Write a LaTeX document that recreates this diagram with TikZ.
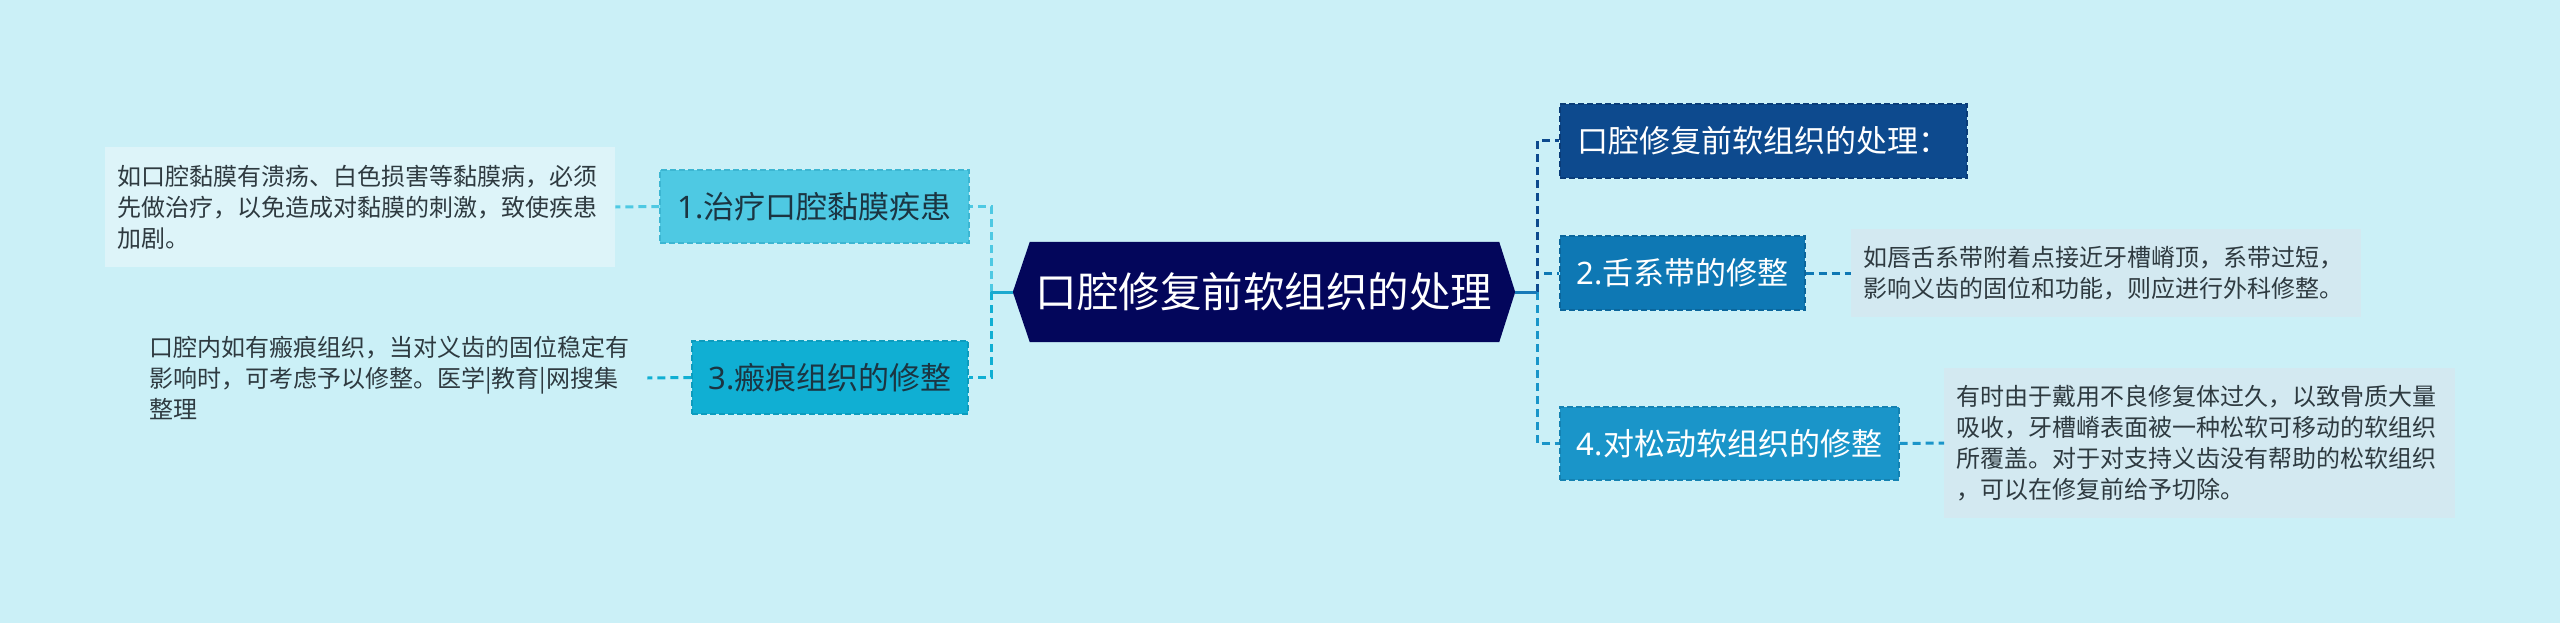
\documentclass[tikz,border=0pt]{standalone}
\usepackage{fontspec}
\setmainfont{Noto Sans CJK SC}
\newfontfamily\latinf{Noto Sans}
\usetikzlibrary{backgrounds}
\definecolor{pagebg}{HTML}{CBF0F7}
\definecolor{rootc}{HTML}{03065B}
\definecolor{topc}{HTML}{0D4A8E}
\definecolor{topd}{HTML}{0A3C78}
\definecolor{twoc}{HTML}{0E78B4}
\definecolor{twod}{HTML}{0B669C}
\definecolor{fourc}{HTML}{1A95C9}
\definecolor{fourd}{HTML}{1482B2}
\definecolor{onec}{HTML}{4EC9E3}
\definecolor{oned}{HTML}{3CB6D2}
\definecolor{threec}{HTML}{10AFD3}
\definecolor{threed}{HTML}{0C9CBE}
\definecolor{noteA}{HTML}{DDF4F9}
\definecolor{noteB}{HTML}{D3E9F1}
\definecolor{notetext}{HTML}{2E3A40}
\definecolor{darktext}{HTML}{1B3542}
\definecolor{stubL}{HTML}{1BA9CF}
\definecolor{stubR}{HTML}{1679B8}
\tikzset{
  box/.style={rectangle, inner sep=0pt, align=center,
    font=\fontsize{31}{38}\selectfont, dash pattern=on 6pt off 3pt, line width=1.2pt},
  note/.style={rectangle, anchor=west, align=left, inner xsep=12pt, inner ysep=0pt,
    font=\fontsize{24}{31}\selectfont, text=notetext},
  link/.style={line width=3pt, dash pattern=on 8pt off 5pt},
  stub/.style={line width=3pt},
}
\begin{document}
\begin{tikzpicture}[x=1pt,y=-1pt]
\begin{scope}[on background layer]
  \fill[pagebg] (0,0) rectangle (2560,623);
\end{scope}
\useasboundingbox (0,0) rectangle (2560,623);

% root
\node[rectangle, inner sep=0pt, minimum width=502pt, minimum height=100pt,
      text=white, font=\fontsize{41.5}{50}\selectfont] (root) at (1264,292) {口腔修复前软组织的处理};
\begin{scope}[on background layer]
  \fill[rootc] ([xshift=17pt]root.north west) -- ([xshift=-16pt]root.north east) -- (root.east)
    -- ([xshift=-16pt]root.south east) -- ([xshift=17pt]root.south west) -- (root.west) -- cycle;
\end{scope}

% left branches
\node[box, fill=onec, draw=oned, text=darktext, minimum width=309pt, minimum height=73pt] (n1) at (814.5,206.5) {{\latinf 1.}治疗口腔黏膜疾患};
\node[box, fill=threec, draw=threed, text=darktext, minimum width=276pt, minimum height=73pt] (n3) at (830,377.5) {{\latinf 3.}瘢痕组织的修整};

% right branches
\node[box, fill=topc, draw=topd, text=white, minimum width=407pt, minimum height=74pt] (t0) at (1763.5,141) {口腔修复前软组织的处理：};
\node[box, fill=twoc, draw=twod, text=white, minimum width=245pt, minimum height=74pt] (n2) at (1682.5,273) {{\latinf 2.}舌系带的修整};
\node[box, fill=fourc, draw=fourd, text=white, minimum width=339pt, minimum height=73pt] (n4) at (1729.5,443.5) {{\latinf 4.}对松动软组织的修整};

% notes
\node[note, fill=noteA, text width=486pt, minimum height=120pt] (note1) at (105,207)
  {如口腔黏膜有溃疡、白色损害等黏膜病，必须\\先做治疗，以免造成对黏膜的刺激，致使疾患\\加剧。};
\node[note, text width=486pt, minimum height=100pt] (note3) at (137,378)
  {口腔内如有瘢痕组织，当对义齿的固位稳定有\\影响时，可考虑予以修整。医学|教育|网搜集\\整理};
\node[note, fill=noteB, text width=486pt, minimum height=88pt] (note2) at (1851,273)
  {如唇舌系带附着点接近牙槽嵴顶，系带过短，\\影响义齿的固位和功能，则应进行外科修整。};
\node[note, fill=noteB, text width=487pt, minimum height=150pt] (note4) at (1944,443)
  {有时由于戴用不良修复体过久，以致骨质大量\\吸收，牙槽嵴表面被一种松软可移动的软组织\\所覆盖。对于对支持义齿没有帮助的松软组织\\，可以在修复前给予切除。};

% connectors left
\coordinate (lj) at (991,292);
\draw[link, onec] (lj) |- (n1.east);
\draw[link, threec] (lj) |- (n3.east);
\draw[stub, stubL] (root.west) -- (lj);

% connectors right
\coordinate (rj) at (1537,292);
\draw[link, fourc] (rj) |- (n4.west);
\draw[link, twoc] (rj) |- (n2.west);
\draw[link, topc] (rj) |- (t0.west);
\draw[stub, stubR] (root.east) -- (rj);

% note connectors
\draw[link, onec] (n1.west) -- (note1.east);
\draw[link, threec] (n3.west) -- (note3.east);
\draw[link, twoc] (n2.east) -- (note2.west);
\draw[link, fourc] (n4.east) -- (note4.west);
\end{tikzpicture}
\end{document}
